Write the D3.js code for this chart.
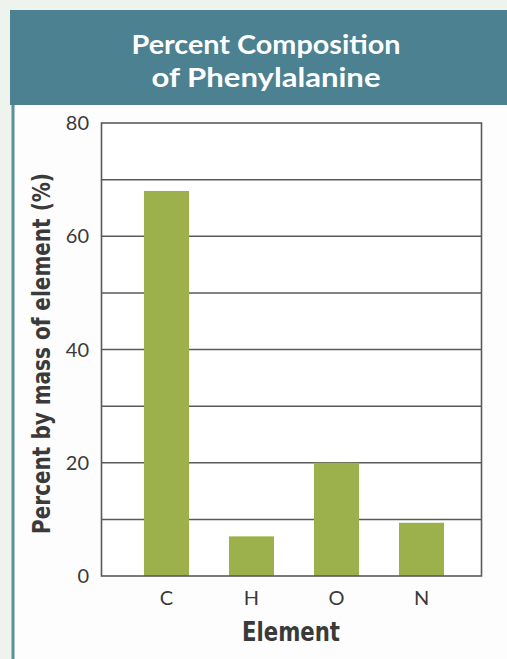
<!DOCTYPE html>
<html>
<head>
<meta charset="utf-8">
<script src="https://cdn.jsdelivr.net/npm/d3@7"></script>
<style>
  html, body { margin: 0; padding: 0; background: #eef3ee; }
  svg { display: block; }
</style>
</head>
<body>
<script>
// Percent by mass of each element in phenylalanine
const elements = ["C", "H", "O", "N"];
const percentByMass = [68, 7, 20, 9.4];
const yTickValues = [0, 20, 40, 60, 80];
const gridValues = [10, 20, 30, 40, 50, 60, 70];
const titleLines = ["Percent Composition", "of Phenylalanine"];
const xAxisTitle = "Element";
const yAxisTitle = "Percent by mass of element (%)";

const W = 507, H = 659;
const plot = { left: 101.5, right: 481.5, top: 123, bottom: 576 };

const svg = d3.select("body").append("svg")
  .attr("width", W).attr("height", H);

// page background and panel
svg.append("rect").attr("width", W).attr("height", H).attr("fill", "#eef3ee");
svg.append("rect").attr("x", 14).attr("y", 10).attr("width", W - 14).attr("height", H - 10)
  .attr("fill", "#fcfdfc");
svg.append("rect").attr("x", 11.5).attr("y", 10).attr("width", 3).attr("height", H - 10)
  .attr("fill", "#5b8fa0");

// title banner
svg.append("rect").attr("x", 10).attr("y", 10).attr("width", W - 10).attr("height", 95)
  .attr("fill", "#4b8191");
svg.append("g").selectAll("text").data(titleLines).join("text")
  .attr("x", 266)
  .attr("y", (d, i) => 54 + i * 33)
  .attr("text-anchor", "middle")
  .attr("fill", "#ffffff")
  .attr("font-family", "Lato, 'Noto Sans', sans-serif")
  .attr("font-weight", 700)
  .attr("font-size", 27.5)
  .attr("textLength", (d, i) => i === 0 ? 269 : 229)
  .attr("lengthAdjust", "spacingAndGlyphs")
  .text(d => d);

// scales
const y = d3.scaleLinear().domain([0, 80]).range([plot.bottom, plot.top]);
const x = d3.scaleBand().domain(elements)
  .range([plot.left + 2.5, plot.right + 2.5])
  .paddingInner(0.47).paddingOuter(0.47);

// plot area
svg.append("rect")
  .attr("x", plot.left).attr("y", plot.top)
  .attr("width", plot.right - plot.left).attr("height", plot.bottom - plot.top)
  .attr("fill", "#ffffff");

// horizontal grid lines
svg.append("g").selectAll("line").data(gridValues).join("line")
  .attr("x1", plot.left).attr("x2", plot.right)
  .attr("y1", d => y(d)).attr("y2", d => y(d))
  .attr("stroke", "#5a5a5a").attr("stroke-width", 1.5);

// bars
svg.append("g").selectAll("rect").data(elements).join("rect")
  .attr("x", d => x(d))
  .attr("width", x.bandwidth())
  .attr("y", (d, i) => y(percentByMass[i]))
  .attr("height", (d, i) => y(0) - y(percentByMass[i]))
  .attr("fill", "#9cb04b");

// plot frame
svg.append("rect")
  .attr("x", plot.left).attr("y", plot.top)
  .attr("width", plot.right - plot.left).attr("height", plot.bottom - plot.top)
  .attr("fill", "none").attr("stroke", "#5a5a5a").attr("stroke-width", 1.6);

const tickFont = "Lato, 'Noto Sans', sans-serif";

// y tick labels
svg.append("g").selectAll("text").data(yTickValues).join("text")
  .attr("x", 89)
  .attr("y", d => y(d))
  .attr("dy", "0.36em")
  .attr("text-anchor", "end")
  .attr("fill", "#3a3a3a")
  .attr("font-family", tickFont)
  .attr("font-weight", 400)
  .attr("font-size", 20)
  .text(d => d);

// x category labels
svg.append("g").selectAll("text").data(elements).join("text")
  .attr("x", d => x(d) + x.bandwidth() / 2)
  .attr("y", 605)
  .attr("text-anchor", "middle")
  .attr("fill", "#3a3a3a")
  .attr("font-family", tickFont)
  .attr("font-weight", 400)
  .attr("font-size", 20)
  .text(d => d);

const boldFont = "'DejaVu Sans Condensed', 'DejaVu Sans', sans-serif";

// axis titles
svg.append("text")
  .attr("x", 291).attr("y", 641)
  .attr("text-anchor", "middle")
  .attr("fill", "#3a3a3a")
  .attr("font-family", boldFont)
  .attr("font-weight", 700)
  .attr("font-stretch", "condensed")
  .attr("font-size", 27)
  .attr("textLength", 98)
  .attr("lengthAdjust", "spacingAndGlyphs")
  .text(xAxisTitle);

svg.append("text")
  .attr("transform", "translate(49.5,353.5) rotate(-90)")
  .attr("text-anchor", "middle")
  .attr("fill", "#3a3a3a")
  .attr("font-family", boldFont)
  .attr("font-weight", 700)
  .attr("font-stretch", "condensed")
  .attr("font-size", 25)
  .attr("textLength", 361)
  .attr("lengthAdjust", "spacingAndGlyphs")
  .text(yAxisTitle);
</script>
</body>
</html>
